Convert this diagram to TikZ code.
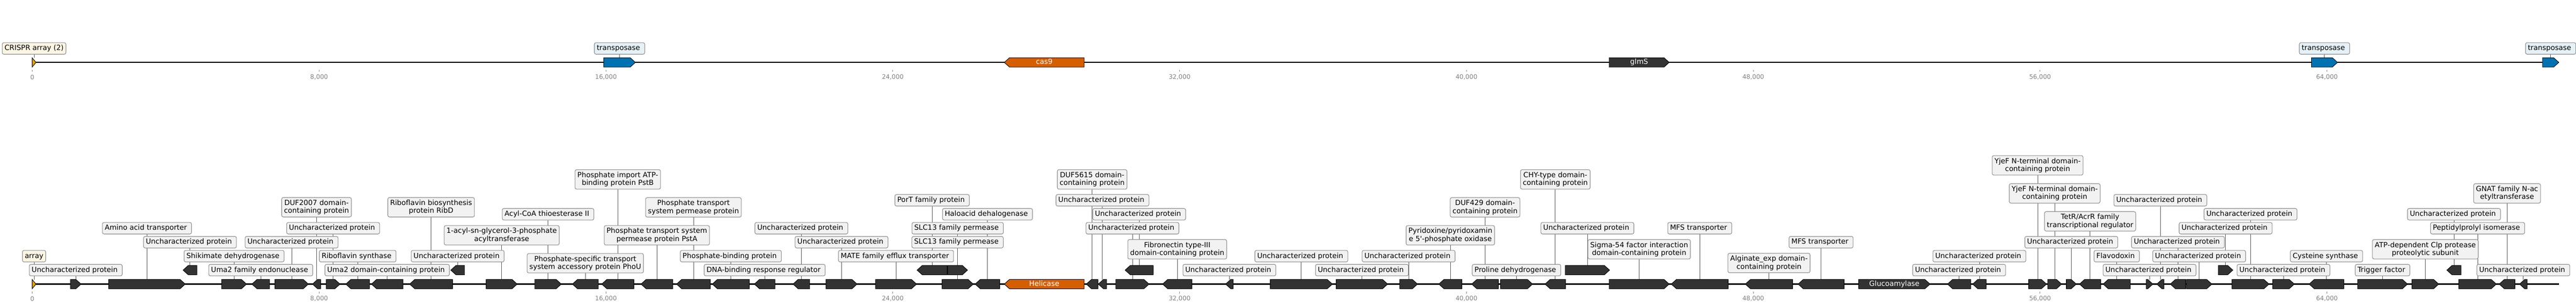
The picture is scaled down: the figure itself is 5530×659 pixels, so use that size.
\documentclass[tikz,border=0pt]{standalone}
\usepackage{fontspec}
\setmainfont{DejaVu Sans}
\pgfdeclarelayer{bg}
\pgfdeclarelayer{mid}
\pgfsetlayers{bg,mid,main}
\definecolor{gdark}{HTML}{333333}
\definecolor{cverm}{HTML}{D55E00}
\definecolor{corange}{HTML}{E69F00}
\definecolor{cblue}{HTML}{0072B2}
\definecolor{boxfill}{HTML}{F2F2F2}
\definecolor{boxedge}{HTML}{8F8F8F}
\definecolor{creamfill}{HTML}{FCF5E4}
\definecolor{bluefill}{HTML}{E5F1F7}
\definecolor{tickc}{HTML}{808080}
\definecolor{connc}{HTML}{555555}
\newcommand\lf{\fontsize{15.28pt}{17pt}\selectfont}
\newcommand\tf{\fontsize{13.3pt}{15pt}\selectfont}
\newcommand\two[2]{\begin{tabular}[b]{@{}c@{}}#1\\#2\end{tabular}}
\newcommand\gene[6][gdark]{%
  \pgfmathsetmacro\gA{#3}%
  \pgfmathsetmacro\gB{#4}%
  \pgfmathsetmacro\gH{min(11,\gB-\gA)}%
  \pgfmathsetmacro\gC{(\gA+\gB)/2}%
  \pgfmathsetmacro\gT{#6-10}%
  \pgfmathsetmacro\gU{#6+10}%
  \begin{pgfonlayer}{mid}%
  \if r#5%
    \filldraw[genestyle,fill=#1] (\gA,\gT) -- ({\gB-\gH},\gT) -- (\gB,#6) -- ({\gB-\gH},\gU) -- (\gA,\gU) -- cycle;%
  \else
    \filldraw[genestyle,fill=#1] (\gB,\gT) -- ({\gA+\gH},\gT) -- (\gA,#6) -- ({\gA+\gH},\gU) -- (\gB,\gU) -- cycle;%
  \fi
  \end{pgfonlayer}%
  \coordinate (#2) at (\gC,\gT);%
}
\newcommand\lab[5][lbl]{%
  \node[#1] (#2) at (#3 |- 0,#4) {#5};%
  \begin{pgfonlayer}{bg}\draw[conn] (#2.south) -- (#3);\end{pgfonlayer}%
}
\begin{document}
\begin{tikzpicture}[x=1pt,y=-1pt,
  lblbase/.style={draw=boxedge, fill=boxfill, rounded corners=3.5pt, line width=1.2pt,
    inner sep=5pt, text height=11.6pt, text depth=3.2pt, font=\lf, text=black},
  lbl/.style={lblbase, execute at end node={\kern4.9pt}},
  lbltwo/.style={lblbase, text height=28.6pt},
  lblcream/.style={lblbase, fill=creamfill},
  lbltp/.style={lbl, fill=bluefill},
  conn/.style={draw=connc, line width=1pt},
  genestyle/.style={draw=black, line width=1pt, line join=miter},
  intext/.style={font=\lf, text=white, inner sep=0pt, text height=11.6pt, text depth=3.2pt},
  backbone/.style={line width=2.8pt, black},
  tickmark/.style={draw=tickc, line width=1pt},
  ticklab/.style={font=\tf, text=tickc, inner sep=0pt}]
\useasboundingbox (0,0) rectangle (5530,659);
% backbones
\coordinate (topL) at (69,134);
\coordinate (topR) at (5493,134);
\coordinate (botL) at (69,610);
\coordinate (botR) at (5493.3,610);
\begin{pgfonlayer}{bg}
\fill[white] (0,0) rectangle (5530,659);
\draw[backbone] (topL) -- (topR);
\draw[backbone] (botL) -- (botR);
\end{pgfonlayer}
% ticks
\foreach \k/\t in {0/0,1/{8,000},2/{16,000},3/{24,000},4/{32,000},5/{40,000},6/{48,000},7/{56,000},8/{64,000}}{
  \pgfmathsetmacro\tx{69.3+615.75*\k}
  \draw[tickmark] (\tx,626) -- (\tx,630);
  \node[ticklab] (tb\k) at (\tx,641.7) {\t};
  \draw[tickmark] (\tx,150) -- (\tx,154);
  \node[ticklab] (tt\k) at (\tx,165.7) {\t};
}
% ---------- top track ----------
\gene[corange]{t1}{69}{77.3}{r}{134}
\gene[cblue]{t2}{1296}{1364}{r}{134}
\gene[cverm]{t3}{2156}{2327.3}{l}{134}
\gene{t4}{3454.3}{3583.3}{r}{134}
\gene[cblue]{t5}{4962}{5018}{r}{134}
\gene[cblue]{t6}{5458}{5493}{r}{134}
\lab[lblcream]{T1}{t1}{104}{CRISPR array (2)}
\lab[lbltp]{T2}{t2}{104}{transposase}
\lab[lbltp]{T5}{t5}{104}{transposase}
\lab[lbltp]{T6}{t6}{104}{transposase}
\node[intext] (cas9T) at (t3 |- 0,134) {cas9};
\node[intext] (glmST) at (t4 |- 0,134) {glmS};
% ---------- bottom track ----------
\gene[corange]{g1}{69}{77.3}{r}{610}
\gene{g2}{151.3}{174}{r}{610}
\gene{g3}{233.3}{397.7}{r}{610}
\gene{g4}{393}{422.7}{l}{580}
\gene{g5}{475.7}{529.3}{r}{610}
\gene{g6}{540.7}{578.7}{l}{610}
\gene{g7}{590}{662}{r}{610}
\gene{g8}{670.7}{688.3}{l}{610}
\gene{g9}{700.3}{730}{r}{610}
\gene{g10}{742.3}{793.3}{l}{610}
\gene{g11}{797.3}{865}{l}{610}
\gene{g12}{879.3}{971.7}{l}{610}
\gene{g13}{967.7}{997.3}{l}{580}
\gene{g14}{1043.7}{1110.3}{r}{610}
\gene{g15}{1148}{1205}{r}{610}
\gene{g16}{1228.7}{1284.3}{l}{610}
\gene{g17}{1291.7}{1360.7}{l}{610}
\gene{g18}{1376}{1444.3}{l}{610}
\gene{g19}{1452.3}{1525}{l}{610}
\gene{g20}{1529}{1608.7}{l}{610}
\gene{g21}{1619.3}{1663.7}{l}{610}
\gene{g22}{1702.3}{1738.3}{l}{610}
\gene{g23}{1773}{1840}{r}{610}
\gene{g24}{1879.3}{1967.7}{r}{610}
\gene{g25}{1968.7}{2033.3}{l}{580}
\gene{g26}{2034.3}{2077}{r}{580}
\gene{g27}{2022.3}{2089.3}{r}{610}
\gene{g28}{2093.3}{2146.3}{l}{610}
\gene[cverm]{g29}{2156}{2327.3}{l}{610}
\gene{g30}{2332}{2357}{l}{610}
\gene{g31}{2357.7}{2375.7}{l}{610}
\gene{g32}{2395.3}{2466.7}{r}{610}
\gene{g33}{2415.3}{2475.7}{l}{580}
\gene{g34}{2495.7}{2558.7}{l}{610}
\gene{g35}{2631}{2647.3}{l}{610}
\gene{g36}{2727}{2860.3}{r}{610}
\gene{g37}{2868.3}{2979}{r}{610}
\gene{g38}{3004.7}{3043}{r}{610}
\gene{g39}{3088.7}{3138.3}{l}{610}
\gene{g40}{3159.3}{3216.7}{l}{610}
\gene{g41}{3221}{3290}{r}{610}
\gene{g42}{3316.7}{3361}{l}{610}
\gene{g43}{3360}{3455.3}{r}{580}
\gene{g44}{3454.3}{3583.3}{r}{610}
\gene{g45}{3587.7}{3710}{l}{610}
\gene{g46}{3746.7}{3848.3}{l}{610}
\gene{g47}{3860}{3958.7}{l}{610}
\gene{g48}{3990}{4143.3}{r}{610}
\gene{g49}{4180.7}{4230.7}{l}{610}
\gene{g50}{4234.7}{4263.7}{l}{610}
\gene{g51}{4355}{4393.3}{r}{610}
\gene{g52}{4396}{4425.7}{r}{610}
\gene{g53}{4435.7}{4457.3}{r}{610}
\gene{g54}{4464}{4509.7}{l}{610}
\gene{g55}{4514.7}{4573.3}{l}{610}
\gene{g56}{4607.3}{4621.7}{r}{610}
\gene{g57}{4630}{4645.3}{l}{610}
\gene{g58}{4659}{4692}{l}{610}
\gene{g59}{4693.7}{4748.3}{r}{610}
\gene{g60}{4762.3}{4793.3}{r}{580}
\gene{g61}{4791.3}{4871}{r}{610}
\gene{g62}{4878.7}{4925.3}{r}{610}
\gene{g63}{4957}{5031.7}{l}{610}
\gene{g64}{5061}{5168.3}{r}{610}
\gene{g65}{5177.7}{5235.3}{r}{610}
\gene{g66}{5252.7}{5283.3}{l}{580}
\gene{g67}{5278.3}{5359}{r}{610}
\gene{g68}{5365}{5399}{l}{610}
\gene{g69}{5408.7}{5425}{l}{610}
% labels
\lab[lblcream]{L1}{g1}{550}{array}
\lab{L2}{g2}{580}{Uncharacterized protein}
\lab{L3}{g3}{490}{Amino acid transporter}
\lab{L4}{g4}{520}{Uncharacterized protein}
\lab{L5}{g5}{550}{Shikimate dehydrogenase}
\lab{L6}{g6}{580}{Uma2 family endonuclease}
\lab{L7}{g7}{520}{Uncharacterized protein}
\lab[lbltwo]{L8}{g8}{445}{\two{DUF2007 domain-}{containing protein}}
\lab{L9}{g9}{490}{Uncharacterized protein}
\lab{L10}{g10}{550}{Riboflavin synthase}
\lab{L11}{g11}{580}{Uma2 domain-containing protein}
\lab[lbltwo]{L12}{g12}{445}{\two{Riboflavin biosynthesis}{protein RibD}}
\lab{L13}{g13}{550}{Uncharacterized protein}
\lab[lbltwo]{L14}{g14}{505.2}{\two{1-acyl-sn-glycerol-3-phosphate}{acyltransferase}}
\lab{L15}{g15}{460}{Acyl-CoA thioesterase II}
\lab[lbltwo]{L16}{g16}{565.2}{\two{Phosphate-specific transport}{system accessory protein PhoU}}
\lab[lbltwo]{L17}{g17}{385.2}{\two{Phosphate import ATP-}{binding protein PstB}}
\lab[lbltwo]{L18}{g18}{505.2}{\two{Phosphate transport system}{permease protein PstA}}
\lab[lbltwo]{L19}{g19}{445.2}{\two{Phosphate transport}{system permease protein}}
\lab{L20}{g20}{550}{Phosphate-binding protein}
\lab{L21}{g21}{580}{DNA-binding response regulator}
\lab{L22}{g22}{490}{Uncharacterized protein}
\lab{L23}{g23}{520}{Uncharacterized protein}
\lab{L24}{g24}{550}{MATE family efflux transporter}
\lab{L25}{g25}{430}{PorT family protein}
\lab{L26}{g26}{520}{SLC13 family permease}
\lab{L27}{g27}{490}{SLC13 family permease}
\lab{L28}{g28}{460}{Haloacid dehalogenase}
\node[intext] (helT) at (g29 |- 0,610) {Helicase};
\lab[lbltwo]{L30}{g30}{385.2}{\two{DUF5615 domain-}{containing protein}}
\lab{L31}{g31}{430}{Uncharacterized protein}
\lab{L32}{g32}{490}{Uncharacterized protein}
\lab{L33}{g33}{460}{Uncharacterized protein}
\lab[lbltwo]{L34}{g34}{535.2}{\two{Fibronectin type-III}{domain-containing protein}}
\lab{L35}{g35}{580}{Uncharacterized protein}
\lab{L36}{g36}{550}{Uncharacterized protein}
\lab{L37}{g37}{580}{Uncharacterized protein}
\lab{L38}{g38}{550}{Uncharacterized protein}
\lab[lbltwo]{L39}{g39}{505.2}{\two{Pyridoxine/pyridoxamin}{e 5\textquotesingle-phosphate oxidase}}
\lab[lbltwo]{L40}{g40}{445.2}{\two{DUF429 domain-}{containing protein}}
\lab{L41}{g41}{580}{Proline dehydrogenase}
\lab[lbltwo]{L42}{g42}{385.2}{\two{CHY-type domain-}{containing protein}}
\lab{L43}{g43}{490}{Uncharacterized protein}
\lab[lbltwo]{L44}{g44}{535.2}{\two{Sigma-54 factor interaction}{domain-containing protein}}
\lab{L45}{g45}{490}{MFS transporter}
\lab[lbltwo]{L46}{g46}{564.7}{\two{Alginate\_exp domain-}{containing protein}}
\lab{L47}{g47}{520}{MFS transporter}
\node[intext] (gluT) at (g48 |- 0,610) {Glucoamylase};
\lab{L49}{g49}{580}{Uncharacterized protein}
\lab{L50}{g50}{550}{Uncharacterized protein}
\lab[lbltwo]{L51}{g51}{355}{\two{YjeF N-terminal domain-}{containing protein}}
\lab[lbltwo]{L52}{g52}{415.2}{\two{YjeF N-terminal domain-}{containing protein}}
\lab{L53}{g53}{520}{Uncharacterized protein}
\lab[lbltwo]{L54}{g54}{475.2}{\two{TetR/AcrR family}{transcriptional regulator}}
\lab{L55}{g55}{550}{Flavodoxin}
\lab{L56}{g56}{580}{Uncharacterized protein}
\lab{L57}{g57}{430}{Uncharacterized protein}
\lab{L58}{g58}{520}{Uncharacterized protein}
\lab{L59}{g59}{550}{Uncharacterized protein}
\lab{L60}{g60}{490}{Uncharacterized protein}
\lab{L61}{g61}{460}{Uncharacterized protein}
\lab{L62}{g62}{580}{Uncharacterized protein}
\lab{L63}{g63}{550}{Cysteine synthase}
\lab{L64}{g64}{580}{Trigger factor}
\lab[lbltwo]{L65}{g65}{535.2}{\two{ATP-dependent Clp protease}{proteolytic subunit}}
\lab{L66}{g66}{460}{Uncharacterized protein}
\lab{L67}{g67}{490}{Peptidylprolyl isomerase}
\lab[lbltwo]{L68}{g68}{415.2}{\two{GNAT family N-ac}{etyltransferase}}
\lab{L69}{g69}{580}{Uncharacterized protein}
\end{tikzpicture}
\end{document}
